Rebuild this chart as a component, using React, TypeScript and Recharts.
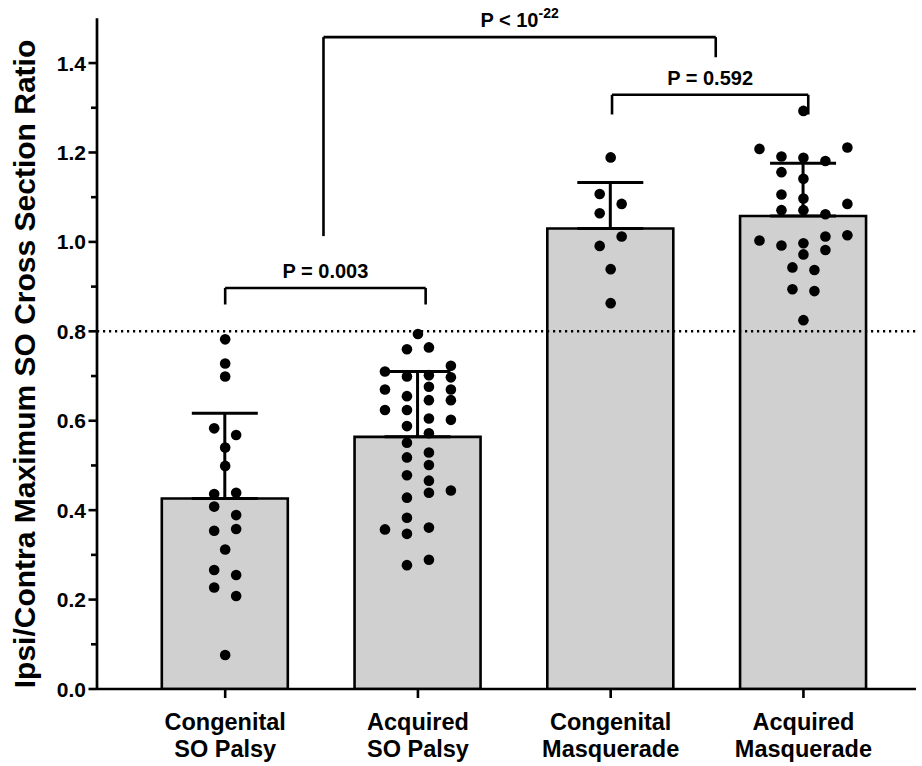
import React from 'react';
import {
  ComposedChart,
  Bar,
  Scatter,
  XAxis,
  YAxis,
  ErrorBar,
  ReferenceLine,
} from 'recharts';

const labelsTop = ['Congenital', 'Acquired', 'Congenital', 'Acquired'];
const labelsBottom = ['SO Palsy', 'SO Palsy', 'Masquerade', 'Masquerade'];
const groupMeans = [0.426, 0.564, 1.03, 1.058];
const groupSD = [0.191, 0.146, 0.103, 0.118];

// individual eyes, value + column of the scatter jitter (in half-dot steps)
const congenitalPalsy = [
  0.782, 0.728, 0.699, 0.583, 0.568, 0.54, 0.499, 0.436, 0.439, 0.408,
  0.389, 0.358, 0.354, 0.312, 0.266, 0.255, 0.227, 0.208, 0.076,
];
const congenitalPalsyCols = [0, 0, 0, -1, 1, 0, 0, -1, 1, -1, 1, 1, -1, 0, -1, 1, -1, 1, 0];

const acquiredPalsy = [
  0.794, 0.76, 0.764, 0.71, 0.699, 0.702, 0.723, 0.697, 0.676, 0.67,
  0.67, 0.655, 0.646, 0.646, 0.624, 0.624, 0.605, 0.602, 0.588, 0.572,
  0.551, 0.529, 0.518, 0.501, 0.478, 0.466, 0.439, 0.444, 0.428, 0.383,
  0.357, 0.347, 0.361, 0.277, 0.289,
];
const acquiredPalsyCols = [
  0, -1, 1, -3, -1, 1, 3, 3, 1, 3, -3, -1, 1, 3, -3, -1, 1, 3, -1, 1,
  -1, 1, -1, 1, -1, 1, 1, 3, -1, -1, -3, -1, 1, -1, 1,
];

const congenitalMasq = [1.189, 1.107, 1.085, 1.064, 1.012, 0.991, 0.939, 0.863];
const congenitalMasqCols = [0, -1, 1, -1, 1, -1, 0, 0];

const acquiredMasq = [
  1.293, 1.208, 1.191, 1.188, 1.181, 1.211, 1.156, 1.141, 1.106, 1.097,
  1.085, 1.071, 1.071, 1.062, 1.012, 1.015, 1.003, 0.992, 0.997, 0.982,
  0.972, 0.943, 0.937, 0.894, 0.89, 0.825,
];
const acquiredMasqCols = [
  0, -4, -2, 0, 2, 4, -2, 0, -2, 0, 4, -2, 0, 2, 2, 4, -4, -2, 0, 2,
  0, -1, 1, -1, 1, 0,
];

const yTicks = [0, 0.1, 0.2, 0.3, 0.4, 0.5, 0.6, 0.7, 0.8, 0.9, 1.0, 1.1, 1.2, 1.3, 1.4];
const cutoff = 0.8;

const brackets = [
  { x1: 0, x2: 1.04, y: 0.897, drop1: 0.86, drop2: 0.86, text: 'P = 0.003', sup: '' },
  { x1: 2.007, x2: 3.025, y: 1.329, drop1: 1.285, drop2: 1.285, text: 'P = 0.592', sup: '' },
  { x1: 0.51, x2: 2.545, y: 1.458, drop1: 1.013, drop2: 1.413, text: 'P < 10', sup: '-22' },
];

const COL_STEP = 0.057;
const X_DOMAIN = [-0.665, 3.584];
const FONT = '"Liberation Sans", Arial, Helvetica, sans-serif';

const barData = groupMeans.map((m, i) => ({ x: i, mean: m, err: [0, groupSD[i]] }));

const groups = [
  [congenitalPalsy, congenitalPalsyCols],
  [acquiredPalsy, acquiredPalsyCols],
  [congenitalMasq, congenitalMasqCols],
  [acquiredMasq, acquiredMasqCols],
];
const pointData = groups.flatMap(([vals, cols], g) =>
  vals.map((v, k) => ({ x: g + cols[k] * COL_STEP, y: v }))
);

const YTick = (props: any) => {
  const { x, y, payload } = props;
  const major = Math.round(payload.value * 10) % 2 === 0;
  return (
    <g>
      <line x1={x - (major ? 8.5 : 6)} x2={x} y1={y} y2={y} stroke="#000" strokeWidth={2.6} />
      {major && (
        <text
          x={x - 11}
          y={y}
          dy="0.36em"
          textAnchor="end"
          fontFamily={FONT}
          fontWeight="bold"
          fontSize={21}
          fill="#000"
        >
          {payload.value.toFixed(1)}
        </text>
      )}
    </g>
  );
};

const XTick = (props: any) => {
  const { x, y, payload } = props;
  const i = payload.value;
  return (
    <g>
      <line x1={x} x2={x} y1={y} y2={y + 9} stroke="#000" strokeWidth={2.6} />
      <text x={x} y={y + 41} textAnchor="middle" fontFamily={FONT} fontWeight="bold" fontSize={23.5} fill="#000">
        {labelsTop[i]}
      </text>
      <text x={x} y={y + 68} textAnchor="middle" fontFamily={FONT} fontWeight="bold" fontSize={23.5} fill="#000">
        {labelsBottom[i]}
      </text>
    </g>
  );
};

const BracketLabel = (props: any) => {
  const { viewBox, text, sup } = props;
  const cx = viewBox.x + viewBox.width / 2;
  return (
    <text x={cx} y={viewBox.y - 10} textAnchor="middle" fontFamily={FONT} fontWeight="bold" fontSize={20} fill="#000">
      {text}
      {sup && (
        <tspan dy={-9} fontSize={14}>
          {sup}
        </tspan>
      )}
    </text>
  );
};

const YTitle = () => (
  <text
    x={24}
    y={364}
    transform="rotate(-90 24 364)"
    textAnchor="middle"
    dominantBaseline="central"
    fontFamily={FONT}
    fontWeight="bold"
    fontSize={30}
    fill="#000"
  >
    Ipsi/Contra Maximum SO Cross Section Ratio
  </text>
);

const Dot = (props: any) => <circle cx={props.cx} cy={props.cy} r={5.3} fill="#000" />;

export default function App() {
  return (
    <div style={{ position: 'absolute', left: 0, top: 0, background: '#fff' }}>
      <ComposedChart
        width={922}
        height={766}
        data={barData}
        margin={{ top: 18.35, right: 6, bottom: 0, left: 0 }}
      >
        <XAxis
          dataKey="x"
          type="number"
          domain={X_DOMAIN}
          ticks={[0, 1, 2, 3]}
          allowDataOverflow
          height={77}
          tickSize={0}
          tickMargin={0}
          tickLine={false}
          tick={<XTick />}
          axisLine={{ stroke: '#000', strokeWidth: 2.7 }}
          interval={0}
        />
        <XAxis
          xAxisId="pts"
          dataKey="x"
          type="number"
          domain={X_DOMAIN}
          allowDataOverflow
          hide
        />
        <YAxis
          type="number"
          domain={[0, 1.5]}
          ticks={yTicks}
          allowDataOverflow
          width={97}
          tickSize={0}
          tickMargin={0}
          tickLine={false}
          tick={<YTick />}
          axisLine={{ stroke: '#000', strokeWidth: 2.7 }}
          interval={0}
          label={<YTitle />}
        />
        <Bar
          dataKey="mean"
          fill="#d0d0d0"
          stroke="#000"
          strokeWidth={2.6}
          barSize={126}
          isAnimationActive={false}
        >
          <ErrorBar dataKey="err" direction="y" width={33} stroke="#000" strokeWidth={3} />
        </Bar>
        <ReferenceLine y={cutoff} stroke="#000" strokeWidth={2.4} strokeDasharray="2.2 3.8" />
        {brackets.map((b, i) => (
          <ReferenceLine
            key={'h' + i}
            segment={[
              { x: b.x1, y: b.y },
              { x: b.x2, y: b.y },
            ]}
            stroke="#000"
            strokeWidth={2.6}
            label={<BracketLabel text={b.text} sup={b.sup} />}
          />
        ))}
        {brackets.map((b, i) => (
          <ReferenceLine
            key={'l' + i}
            segment={[
              { x: b.x1, y: b.y },
              { x: b.x1, y: b.drop1 },
            ]}
            stroke="#000"
            strokeWidth={2.6}
          />
        ))}
        {brackets.map((b, i) => (
          <ReferenceLine
            key={'r' + i}
            segment={[
              { x: b.x2, y: b.y },
              { x: b.x2, y: b.drop2 },
            ]}
            stroke="#000"
            strokeWidth={2.6}
          />
        ))}
        <Scatter
          xAxisId="pts"
          data={pointData}
          dataKey="y"
          shape={<Dot />}
          isAnimationActive={false}
        />
      </ComposedChart>
    </div>
  );
}
